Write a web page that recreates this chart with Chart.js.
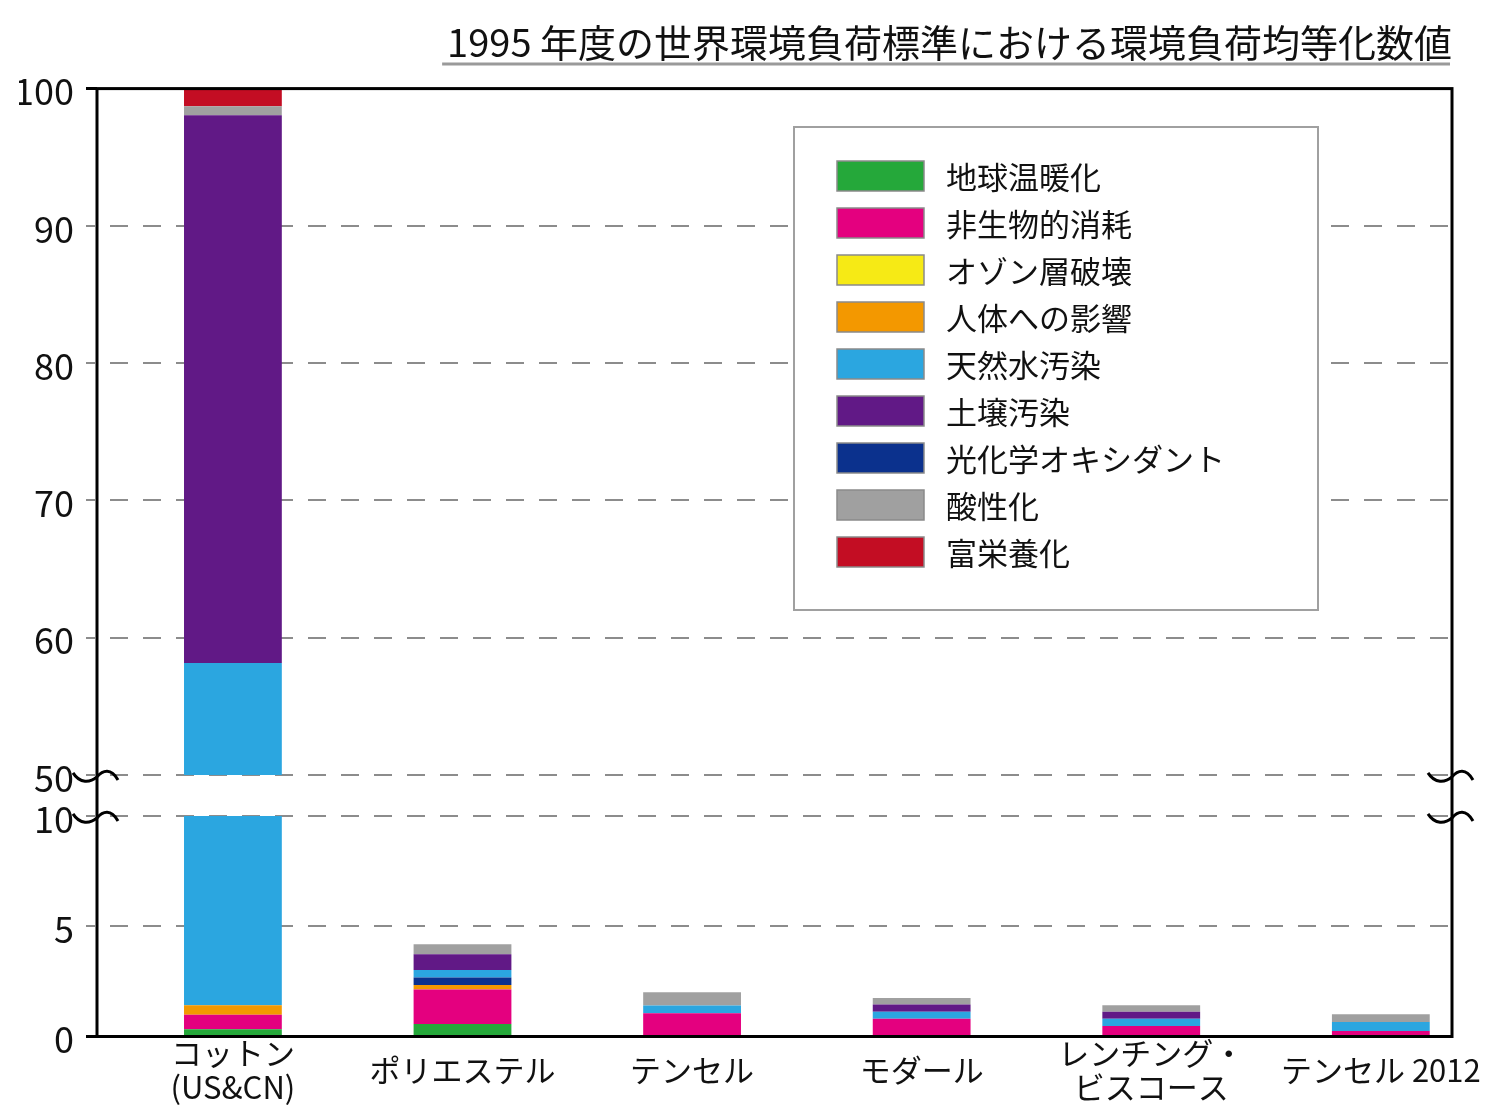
<!DOCTYPE html>
<html><head><meta charset="utf-8">
<script src="https://cdn.jsdelivr.net/npm/chart.js@4.4.1/dist/chart.umd.min.js"></script>
<style>html,body{margin:0;padding:0;background:#fff}#wrap{position:relative;width:1500px;height:1112px}</style>
</head><body><div id="wrap"><canvas id="c"></canvas></div>
<script>
const titleText = '1995 年度の世界環境負荷標準における環境負荷均等化数値';
const categories = [['コットン', '(US&CN)'], 'ポリエステル', 'テンセル', 'モダール', ['レンチング・', 'ビスコース'], 'テンセル 2012'];
const seriesNames = ['地球温暖化', '非生物的消耗', 'オゾン層破壊', '人体への影響', '天然水汚染', '土壌汚染', '光化学オキシダント', '酸性化', '富栄養化'];
const seriesColors = ['#25a83a', '#e4007f', '#f6ea15', '#f39800', '#2ba6e0', '#611986', '#0b318d', '#a0a0a0', '#c30d23'];
const globalWarming   = [0.33, 0.57, 0, 0, 0, 0];
const abioticDepletion = [0.66, 1.56, 1.05, 0.80, 0.48, 0.25];
const ozoneDepletion  = [0, 0, 0, 0, 0, 0];
const humanToxicity   = [0.43, 0.21, 0, 0, 0, 0];
const waterEcotox     = [56.74, 0.35, 0.35, 0.32, 0.32, 0.41];
const soilEcotox      = [39.89, 0.71, 0, 0.33, 0.32, 0];
const photochemOx     = [0, 0.33, 0, 0, 0, 0];
const acidification   = [0.66, 0.45, 0.61, 0.30, 0.30, 0.35];
const eutrophication  = [1.29, 0, 0, 0, 0, 0];
const seriesValues = [globalWarming, abioticDepletion, ozoneDepletion, humanToxicity, waterEcotox, soilEcotox, photochemOx, acidification, eutrophication];
const stackOrder = [0, 1, 2, 3, 6, 4, 5, 7, 8];
const lowRange = [0, 10], lowStep = 5;
const highRange = [50, 100], highStep = 10;

const FONT = '"Noto Sans CJK JP", "Noto Sans", sans-serif';
const GRID = '#8c8c8c';

const datasets = [];
for (const axis of ['yLow', 'yHigh']) {
  for (const i of stackOrder) {
    datasets.push({
      label: seriesNames[i],
      data: seriesValues[i].map((v, k) => ({x: k, y: v})),
      backgroundColor: seriesColors[i],
      yAxisID: axis, xAxisID: 'x', stack: 'all',
      categoryPercentage: 1, barPercentage: 0.426, borderWidth: 0
    });
  }
}

function squiggle(ctx, x, y) {
  ctx.beginPath();
  ctx.moveTo(x - 24, y - 2);
  ctx.bezierCurveTo(x - 17, y + 9, x - 7, y + 8, x, y + 2);
  ctx.bezierCurveTo(x + 6, y - 5, x + 14, y - 7, x + 21, y + 5);
  ctx.stroke();
}

const brokenAxis = {
  id: 'brokenAxis',
  beforeDatasetDraw(chart, args) {
    const s = chart.scales[args.meta.yAxisID];
    const a = chart.chartArea, ctx = chart.ctx;
    ctx.save();
    ctx.beginPath();
    ctx.rect(a.left, s.top, a.right - a.left, s.bottom - s.top);
    ctx.clip();
  },
  afterDatasetDraw(chart) { chart.ctx.restore(); },
  afterDatasetsDraw(chart) {
    const a = chart.chartArea, ctx = chart.ctx;
    const hi = chart.scales.yHigh, lo = chart.scales.yLow;
    ctx.save();
    ctx.strokeStyle = '#000';
    ctx.lineWidth = 3;
    ctx.strokeRect(a.left, a.top, a.right - a.left, a.bottom - a.top);
    ctx.beginPath();
    ctx.moveTo(a.left - 11, a.top); ctx.lineTo(a.left, a.top);
    ctx.moveTo(a.left - 11, a.bottom); ctx.lineTo(a.left, a.bottom);
    ctx.stroke();
    const yb1 = hi.getPixelForValue(highRange[0]);
    const yb2 = lo.getPixelForValue(lowRange[1]);
    for (const x of [a.left, a.right]) { squiggle(ctx, x, yb1); squiggle(ctx, x, yb2); }
    // legend
    const L = 794, T = 127, W = 524, H = 483;
    ctx.fillStyle = '#fff';
    ctx.fillRect(L, T, W, H);
    ctx.strokeStyle = '#a0a0a0'; ctx.lineWidth = 2;
    ctx.strokeRect(L, T, W, H);
    ctx.font = '31px ' + FONT;
    ctx.textBaseline = 'middle'; ctx.textAlign = 'left';
    seriesNames.forEach((name, i) => {
      const cy = T + 49 + i * 47;
      ctx.fillStyle = seriesColors[i];
      ctx.fillRect(L + 43, cy - 15, 87, 30);
      ctx.strokeStyle = '#8a8a8a'; ctx.lineWidth = 1.5;
      ctx.strokeRect(L + 43, cy - 15, 87, 30);
      ctx.fillStyle = '#111';
      ctx.fillText(name, L + 152, cy + 1);
    });
    // title underline
    const tb = chart.titleBlock;
    ctx.font = '38px ' + FONT;
    const w = ctx.measureText(titleText).width;
    ctx.strokeStyle = '#9a9a9a'; ctx.lineWidth = 3;
    ctx.beginPath();
    ctx.moveTo(tb.right - w - 5, tb.top + 64);
    ctx.lineTo(tb.right - 2, tb.top + 64);
    ctx.stroke();
    ctx.restore();
  }
};

function yScale(range, step, weight, edgeValue) {
  return {
    type: 'linear', position: 'left', stack: 'y', stackWeight: weight,
    min: range[0], max: range[1], stacked: true,
    ticks: {stepSize: step, color: '#111', font: {family: FONT, size: 36}, padding: 12, labelOffset: 3},
    grid: {
      color: c => (c.tick && c.tick.value === edgeValue) ? 'rgba(0,0,0,0)' : GRID,
      lineWidth: 2, tickLength: 11, tickWidth: 2,
      tickColor: c => (c.tick && c.tick.value === edgeValue) ? 'rgba(0,0,0,0)' : GRID,
      tickBorderDash: [9, 40]
    },
    border: {display: false, dash: [18, 15], dashOffset: 20},
    afterFit: s => { s.width = 78; }
  };
}

const chart = new Chart(document.getElementById('c'), {
  type: 'bar',
  data: {datasets},
  options: {
    responsive: true, maintainAspectRatio: false, devicePixelRatio: 1, animation: false,
    layout: {padding: {left: 19, right: 48, top: 0, bottom: 0}},
    plugins: {
      legend: {display: false}, tooltip: {enabled: false},
      title: {display: true, text: titleText, align: 'end', color: '#111',
              font: {family: FONT, size: 38, weight: 'normal'}, padding: {top: 20, bottom: 23}}
    },
    scales: {
      x: {
        type: 'linear', min: -0.592, max: 5.31, stacked: true, offset: false,
        grid: {display: false}, border: {display: false},
        ticks: {stepSize: 1, includeBounds: false, autoSkip: false, maxRotation: 0, crossAlign: 'center',
                color: '#111', font: {family: FONT, size: 31, lineHeight: 1.1}, padding: 9,
                callback: v => Number.isInteger(v) ? categories[v] : ''},
        afterFit: s => { s.height = 75.5; }
      },
      yLow: yScale(lowRange, lowStep, 220.5, lowRange[0]),
      yGap: {type: 'linear', position: 'left', stack: 'y', stackWeight: 41, min: 0, max: 1,
             ticks: {display: false}, grid: {display: false}, border: {display: false},
             afterFit: s => { s.width = 78; }},
      yHigh: yScale(highRange, highStep, 686, highRange[1])
    }
  },
  plugins: [brokenAxis]
});
</script></body></html>
